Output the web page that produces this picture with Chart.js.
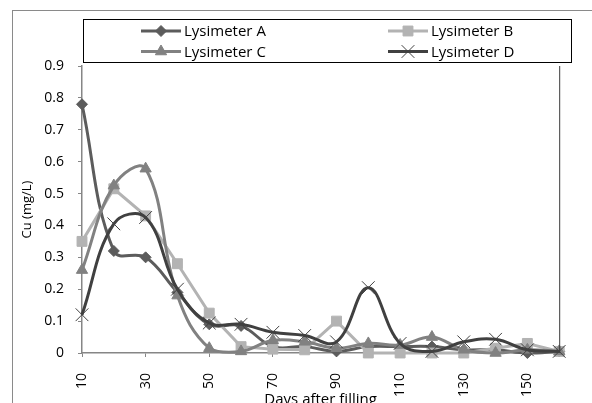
<!DOCTYPE html>
<html>
<head>
<meta charset="utf-8">
<script src="https://cdn.jsdelivr.net/npm/chart.js@4/dist/chart.umd.min.js"></script>
<style>
  html, body { margin: 0; padding: 0; background: #fff; }
  #wrap { position: relative; width: 592px; height: 403px; overflow: hidden; }
  #frame { position: absolute; left: 12px; top: 10px; right: -2px; bottom: -2px;
           border-left: 1px solid #8a8a8a; border-top: 1px solid #8a8a8a; }
  canvas { position: absolute; left: 0; top: 0; }
</style>
</head>
<body>
<div id="wrap">
  <div id="frame"></div>
  <canvas id="chart" width="592" height="403"></canvas>
</div>
<script>
// ── Data ─────────────────────────────────────────────────────────────────────

const days = ["10", "20", "30", "40", "50", "60", "70", "80",
              "90", "100", "110", "120", "130", "140", "150", "160"];

const lysA = [0.78, 0.32, 0.30, 0.19, 0.09, 0.085, 0.02, 0.02,
              0.005, 0.02, 0.02, 0.02, 0.01, 0.01, 0.0, 0.005];
const lysB = [0.35, 0.515, 0.43, 0.28, 0.125, 0.02, 0.012, 0.01,
              0.10, 0.0, 0.0, 0.0, 0.0, 0.015, 0.03, 0.005];
const lysC = [0.26, 0.525, 0.578, 0.18, 0.015, 0.005, 0.04, 0.035,
              0.015, 0.03, 0.025, 0.05, 0.01, 0.0, 0.01, 0.005];
const lysD = [0.12, 0.405, 0.425, 0.20, 0.094, 0.09, 0.065, 0.055,
              0.035, 0.205, 0.03, 0.005, 0.035, 0.043, 0.01, 0.005];

const yTicks = [0, 0.1, 0.2, 0.3, 0.4, 0.5, 0.6, 0.7, 0.8, 0.9];

// ── Helpers ──────────────────────────────────────────────────────────────────

const FONT = '"Open Sans", "Liberation Sans", sans-serif';
const AXIS = "#868686";

function series(label, data, color, style, radius, opts) {
    return Object.assign({
        label,
        data,
        borderColor:          color,
        backgroundColor:      color,
        borderWidth:          3,
        pointStyle:           style,
        pointRadius:          radius,
        pointHoverRadius:     radius,
        pointBackgroundColor: color,
        pointBorderColor:     color,
        pointBorderWidth:     1,
        tension:              0.4,
        clip:                 12,
    }, opts || {});
}

// Excel-style legend (line + marker) in a framed box, and the dark right edge
const extras = {
    id: "extras",
    afterDraw(chart) {
        const { ctx, chartArea: area } = chart;
        ctx.save();

        ctx.strokeStyle = "#3a3a3a";
        ctx.lineWidth = 1;
        ctx.beginPath();
        ctx.moveTo(area.right + 0.5, area.top);
        ctx.lineTo(area.right + 0.5, area.bottom);
        ctx.stroke();

        ctx.strokeStyle = "#000";
        ctx.lineWidth = 1;
        ctx.strokeRect(83.5, 19.5, 488, 43);

        chart.data.datasets.forEach((ds, i) => {
            const x0 = i % 2 ? 388 : 141;
            const y  = i < 2 ? 31 : 51.5;
            ctx.strokeStyle = ds.borderColor;
            ctx.lineWidth = 3;
            ctx.beginPath();
            ctx.moveTo(x0, y);
            ctx.lineTo(x0 + 40, y);
            ctx.stroke();

            ctx.fillStyle = ds.pointBackgroundColor;
            ctx.strokeStyle = ds.pointBorderColor;
            ctx.lineWidth = ds.pointBorderWidth;
            Chart.helpers.drawPoint(ctx, {
                pointStyle: ds.pointStyle, radius: ds.pointRadius,
                rotation: 0, borderWidth: ds.pointBorderWidth,
            }, x0 + 20, y);

            ctx.fillStyle = "#000";
            ctx.font = "15px " + FONT;
            ctx.textBaseline = "middle";
            ctx.textAlign = "left";
            ctx.fillText(ds.label, x0 + 43, y + 1);
        });
        ctx.restore();
    },
};

// ── Chart ────────────────────────────────────────────────────────────────────

new Chart(document.getElementById("chart"), {
    type: "line",
    data: {
        labels: days,
        datasets: [
            series("Lysimeter A", lysA, "#5c5c5c", "rectRot", 5.5, { order: 4 }),
            series("Lysimeter B", lysB, "#b3b3b3", "rect", 7, { order: 3, tension: 0 }),
            series("Lysimeter C", lysC, "#818181", "triangle", 6.5, { order: 2 }),
            series("Lysimeter D", lysD, "#404040", "crossRot", 9, { order: 1 }),
        ],
    },
    options: {
        responsive: false,
        animation: false,
        layout: { padding: { top: 66, right: 18, bottom: 0, left: 0 } },
        plugins: {
            legend:  { display: false },
            tooltip: { enabled: false },
        },
        scales: {
            x: {
                type: "category",
                offset: false,
                afterFit: s => { s.height = 50; },
                border: { color: AXIS, width: 1.5 },
                grid: {
                    drawOnChartArea: false,
                    drawTicks: true,
                    tickLength: 4,
                    tickColor: c => (c.index % 2 ? "rgba(0,0,0,0)" : AXIS),
                },
                ticks: {
                    autoSkip: false,
                    minRotation: 90,
                    maxRotation: 90,
                    padding: 16,
                    color: "#000",
                    font: { family: FONT, size: 14 },
                    callback: (v, i) => (i % 2 ? "" : days[i]),
                },
                title: {
                    display: true,
                    text: "Days after filling",
                    color: "#000",
                    font: { family: FONT, size: 15 },
                    padding: { top: 0, bottom: -6 },
                },
            },
            y: {
                min: 0,
                max: 0.9,
                afterFit: s => { s.width = 82; },
                afterBuildTicks: s => { s.ticks = yTicks.map(v => ({ value: v })); },
                border: { color: AXIS, width: 1.5 },
                grid: {
                    drawOnChartArea: false,
                    drawTicks: true,
                    tickLength: 4,
                    tickColor: AXIS,
                },
                ticks: {
                    padding: 14,
                    color: "#000",
                    font: { family: FONT, size: 14 },
                    callback: v => String(+v.toFixed(1)),
                },
                title: {
                    display: true,
                    text: "Cu (mg/L)",
                    color: "#000",
                    font: { family: FONT, size: 13 },
                    padding: { top: 19, bottom: 0 },
                },
            },
        },
    },
    plugins: [extras],
});
</script>
</body>
</html>
